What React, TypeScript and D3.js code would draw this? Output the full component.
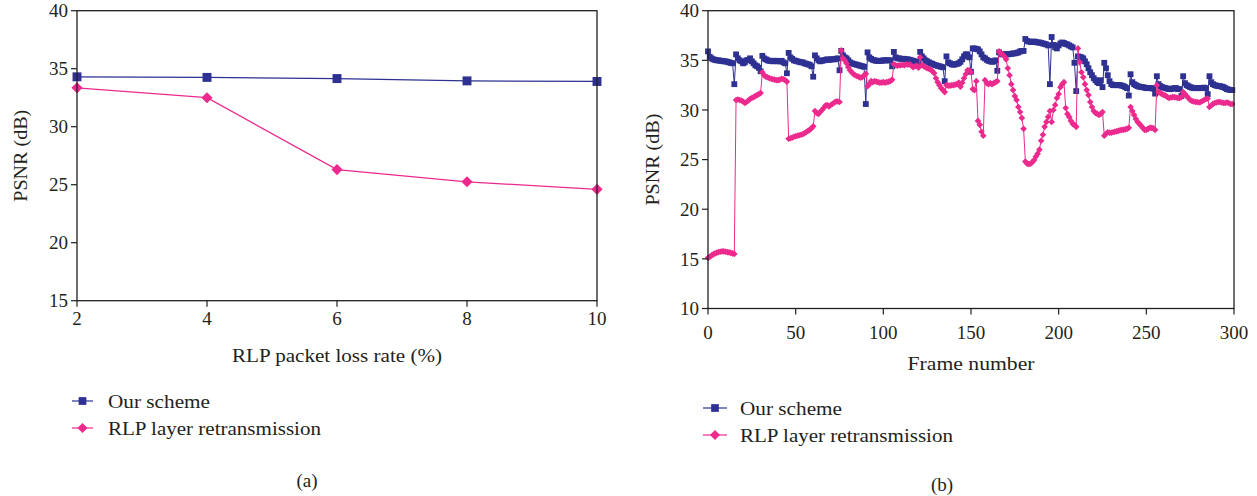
import React from "react";
import * as d3 from "d3";

// ---------- Data ----------
const lossRates = [2, 4, 6, 8, 10];
const lossOurScheme = [34.3, 34.25, 34.15, 33.95, 33.9];
const lossRLP = [33.35, 32.5, 26.3, 25.25, 24.6];

const leftYTicks = [15, 20, 25, 30, 35, 40];
const rightYTicks = [10, 15, 20, 25, 30, 35, 40];
const rightXTicks = [0, 50, 100, 150, 200, 250, 300];

const frameOurScheme = [
  35.9, 35.35, 35.2, 35.1, 35.05, 35.0, 35.0, 34.95, 34.95, 34.9, 34.9, 34.85, 34.8, 34.75, 34.7,
  32.6, 35.6, 35.2, 35.0, 34.9, 34.7, 34.8, 35.0, 35.05, 35.2, 34.9, 34.7, 34.5, 34.4, 34.25,
  33.9, 35.45, 35.2, 35.1, 35.0, 34.95, 34.95, 34.9, 34.95, 34.95, 34.9, 34.9, 34.95, 34.8, 34.7,
  33.7, 35.75, 35.3, 35.15, 35.0, 34.95, 34.9, 34.85, 34.8, 34.8, 34.7, 34.65, 34.6, 34.55, 34.4,
  33.35, 35.5, 35.2, 35.0, 34.9, 34.95, 35.0, 35.05, 35.1, 35.05, 35.1, 35.1, 35.1, 35.15, 35.2,
  34.0, 35.95, 35.5, 35.3, 35.2, 35.0, 34.8, 34.7, 34.65, 34.6, 34.55, 34.5, 34.45, 34.4, 34.35,
  30.6, 35.8, 35.3, 35.15, 35.05, 35.0, 34.95, 34.95, 34.95, 34.95, 35.0, 35.0, 35.0, 35.0, 35.0,
  34.4, 35.85, 35.3, 35.2, 35.2, 35.15, 35.15, 35.15, 35.1, 35.1, 35.05, 35.0, 34.95, 34.9, 34.85,
  34.7, 35.85, 35.4, 35.2, 35.0, 34.9, 34.8, 34.7, 34.65, 34.55, 34.5, 34.45, 34.4, 34.35, 34.3,
  32.9, 35.4, 34.8, 34.7, 34.6, 34.55, 34.6, 34.65, 34.7, 34.85, 35.1, 35.4, 35.6, 35.6, 35.3,
  33.85, 36.2, 36.2, 36.15, 36.1, 35.9, 35.6, 35.3, 35.2, 35.05, 34.95, 34.9, 34.85, 34.9, 35.0,
  33.95, 35.8, 35.65, 35.6, 35.6, 35.6, 35.6, 35.65, 35.65, 35.7, 35.7, 35.75, 35.8, 35.9, 35.95,
  35.95, 37.15, 36.95, 36.9, 36.85, 36.85, 36.9, 36.85, 36.8, 36.8, 36.75, 36.7, 36.65, 36.6, 36.5,
  32.6, 37.35, 36.55, 36.3, 36.2, 36.5, 36.7, 36.8, 36.75, 36.65, 36.6, 36.5, 36.4, 36.3, 34.75,
  31.9, 35.4, 35.35, 35.3, 35.2, 34.9, 34.6, 34.2, 33.8, 33.5, 33.2, 33.0, 32.8, 32.7, 33.0,
  32.3, 34.75, 34.2, 33.5, 32.9, 32.6, 32.5, 32.5, 32.5, 32.5, 32.5, 32.45, 32.4, 32.3, 32.2,
  31.45, 33.6, 32.8, 32.6, 32.5, 32.4, 32.35, 32.3, 32.3, 32.25, 32.2, 32.2, 32.2, 32.2, 32.15,
  31.65, 33.4, 32.6, 32.4, 32.3, 32.25, 32.2, 32.15, 32.1, 32.1, 32.15, 32.2, 32.2, 32.1, 32.1,
  31.4, 33.4, 32.7, 32.5, 32.4, 32.3, 32.25, 32.2, 32.2, 32.2, 32.2, 32.2, 32.2, 32.25, 32.2,
  31.6, 33.4, 32.8, 32.6, 32.5, 32.45, 32.4, 32.4, 32.35, 32.3, 32.2, 32.1, 32.05, 32.0, 32.0,
];

const frameRLP = [
  15.1, 15.2, 15.35, 15.45, 15.55, 15.62, 15.68, 15.72, 15.75, 15.75, 15.72, 15.68, 15.65, 15.6, 15.55, 15.5,
  31.0, 31.05, 31.0, 30.95, 30.85, 30.7, 30.8, 30.95, 31.1, 31.2, 31.3, 31.4, 31.5, 31.6, 31.7,
  33.8, 33.5, 33.35, 33.3, 33.2, 33.15, 33.1, 33.05, 33.0, 33.0, 33.05, 33.15, 33.1, 33.0, 32.85,
  27.1, 27.15, 27.2, 27.3, 27.35, 27.4, 27.45, 27.5, 27.55, 27.65, 27.75, 27.9, 28.0, 28.15, 28.35,
  29.9, 29.7, 29.6, 29.8, 30.0, 30.2, 30.45, 30.5, 30.35, 30.5, 30.6, 30.75, 30.85, 30.85, 30.8,
  36.0, 35.2, 35.0, 34.7, 34.3, 34.0, 33.8, 33.6, 33.5, 33.4, 33.35, 33.25, 33.3, 33.5, 33.65,
  32.4, 32.6, 32.9, 32.8, 32.9, 32.85, 32.8, 32.75, 32.75, 32.8, 32.75, 32.8, 32.85, 32.9, 33.05,
  34.6, 34.5, 34.45, 34.5, 34.5, 34.55, 34.5, 34.6, 34.55, 34.6, 34.45, 34.3, 34.4, 34.45, 34.25,
  35.3, 34.5, 34.4, 34.3, 34.2, 34.15, 34.05, 33.9, 33.7, 33.2, 32.8, 32.5, 32.2, 32.0, 31.8,
  32.5, 32.45, 32.45, 32.5, 32.5, 32.55, 32.6, 32.75, 32.35, 32.75, 33.2, 33.6, 34.0, 34.0, 33.8,
  32.1, 32.0, 32.9, 28.9, 28.5, 27.8, 27.4, 33.0, 32.7, 32.6, 32.7, 32.6, 32.7, 32.8, 32.9,
  35.9, 35.7, 35.6, 35.4, 35.1, 34.2, 33.5, 32.6, 32.0, 31.4, 31.0, 30.3, 29.8, 29.2, 28.1,
  24.8, 24.6, 24.55, 24.6, 24.75, 24.95, 25.3, 25.6, 26.0, 26.9, 27.5, 28.3, 28.8, 29.3, 29.9,
  28.8, 30.0, 30.5, 31.2, 31.6, 32.3, 32.6, 32.8, 30.2, 29.6, 29.3, 28.9, 28.6, 28.5, 28.3,
  36.2, 34.8, 33.8, 33.3, 32.6, 32.0, 31.5, 30.8, 30.3, 29.9, 29.7, 29.6, 29.5, 29.6, 29.8,
  27.4, 27.6, 27.75, 27.7, 27.7, 27.75, 27.8, 27.85, 27.9, 27.95, 28.0, 28.0, 28.05, 28.1, 28.2,
  30.3, 29.9, 29.5, 29.1, 28.8, 28.6, 28.4, 28.2, 28.0, 28.0, 28.1, 28.2, 28.2, 28.15, 28.0,
  32.5, 31.8, 31.7, 31.6, 31.5, 31.45, 31.3, 31.2, 31.25, 31.3, 31.3, 31.25, 31.2, 31.2, 31.3,
  31.8, 31.6, 31.4, 31.2, 31.0, 30.9, 30.85, 30.8, 30.8, 30.75, 30.8, 30.9, 31.0, 31.1, 31.15,
  30.3, 30.45, 30.6, 30.7, 30.75, 30.8, 30.8, 30.75, 30.7, 30.7, 30.75, 30.7, 30.6, 30.6,
];

const seriesNames = ["Our scheme", "RLP layer retransmission"];

// ---------- Styles ----------
const BLUE = "#2e3192";
const PINK = "#ec2a8e";
const AXIS = "#231f20";
const FONT = "'Liberation Serif', 'DejaVu Serif', serif";
const TEXT = "#231f20";
const FS = 19;
const legendTextLen = [102, 213];

type Pt = [number, number];

function Marker({ kind, x, y, size }: { kind: "square" | "diamond"; x: number; y: number; size: number }) {
  const path = d3.symbol().type(d3.symbolSquare).size(size)() as string;
  const rot = kind === "diamond" ? " rotate(45)" : "";
  return <path d={path} transform={`translate(${x},${y})${rot}`} fill={kind === "square" ? BLUE : PINK} />;
}

function Panel(props: {
  xDomain: [number, number];
  yDomain: [number, number];
  x0: number; x1: number; y0: number; y1: number;
  xTicks: number[]; yTicks: number[];
  series: { pts: Pt[]; color: string; kind: "square" | "diamond"; size: number; lw: number }[];
  yTitleX: number; xTickY: number; xTitleY: number; xTitle: string; xTitleLen: number;
  legendX: number; legendY: number; legendGap: number; legendLineLen: number; legendTextX: number;
  legendSizes: number[];
  caption: string; captionX: number; captionY: number;
}) {
  const x = d3.scaleLinear().domain(props.xDomain).range([props.x0, props.x1]);
  const y = d3.scaleLinear().domain(props.yDomain).range([props.y1, props.y0]);
  const line = d3.line<Pt>().x((d) => x(d[0])).y((d) => y(d[1]));
  const yMid = (props.y0 + props.y1) / 2;
  return (
    <g>
      {props.series.map((s, i) => (
        <g key={i}>
          <path d={line(s.pts) as string} fill="none" stroke={s.color} strokeWidth={s.lw} />
          {s.pts.map((p, j) => (
            <Marker key={j} kind={s.kind} x={x(p[0])} y={y(p[1])} size={s.size} />
          ))}
        </g>
      ))}
      <rect x={props.x0} y={props.y0} width={props.x1 - props.x0} height={props.y1 - props.y0}
        fill="none" stroke={AXIS} strokeWidth={1.3} />
      {props.yTicks.map((t) => (
        <g key={"y" + t}>
          <line x1={props.x0 - 6} x2={props.x0} y1={y(t)} y2={y(t)} stroke={AXIS} strokeWidth={1.2} />
          <text x={props.x0 - 9} y={y(t)} dy="0.35em" textAnchor="end" fontFamily={FONT} fontSize={FS} fill={TEXT}>{t}</text>
        </g>
      ))}
      {props.xTicks.map((t) => (
        <g key={"x" + t}>
          <line x1={x(t)} x2={x(t)} y1={props.y1} y2={props.y1 + 6} stroke={AXIS} strokeWidth={1.2} />
          <text x={x(t)} y={props.xTickY} dy="0.35em" textAnchor="middle" fontFamily={FONT} fontSize={FS} fill={TEXT}>{t}</text>
        </g>
      ))}
      <text transform={`translate(${props.yTitleX},${yMid}) rotate(-90)`} textAnchor="middle" dy="0.35em"
        fontFamily={FONT} fontSize={FS} fill={TEXT} textLength={92} lengthAdjust="spacingAndGlyphs">PSNR (dB)</text>
      <text x={(props.x0 + props.x1) / 2} y={props.xTitleY} dy="0.35em" textAnchor="middle"
        fontFamily={FONT} fontSize={FS} fill={TEXT} textLength={props.xTitleLen} lengthAdjust="spacingAndGlyphs">{props.xTitle}</text>
      {props.series.map((s, i) => {
        const ly = props.legendY + i * props.legendGap;
        return (
          <g key={"l" + i}>
            <line x1={props.legendX} x2={props.legendX + props.legendLineLen} y1={ly} y2={ly} stroke={s.color} strokeWidth={1.2} />
            <Marker kind={s.kind} x={props.legendX + props.legendLineLen / 2} y={ly} size={props.legendSizes[i]} />
            <text x={props.legendTextX} y={ly} dy="0.35em" fontFamily={FONT} fontSize={FS} fill={TEXT}
              textLength={legendTextLen[i]} lengthAdjust="spacingAndGlyphs">{seriesNames[i]}</text>
          </g>
        );
      })}
      <text x={props.captionX} y={props.captionY} dy="0.35em" textAnchor="middle" fontFamily={FONT} fontSize={FS} fill={TEXT}>{props.caption}</text>
    </g>
  );
}

export default function App() {
  const leftBlue: Pt[] = lossRates.map((r, i) => [r, lossOurScheme[i]]);
  const leftPink: Pt[] = lossRates.map((r, i) => [r, lossRLP[i]]);
  const rightBlue: Pt[] = frameOurScheme.map((v, i) => [i, v]);
  const rightPink: Pt[] = frameRLP.map((v, i) => [i, v]);
  return (
    <svg width={1257} height={496} style={{ position: "absolute", left: 0, top: 0, background: "#fff" }}>
      <Panel
        xDomain={[2, 10]} yDomain={[15, 40]}
        x0={77} x1={597} y0={10.7} y1={300.7}
        xTicks={lossRates} yTicks={leftYTicks}
        series={[
          { pts: leftBlue, color: BLUE, kind: "square", size: 80, lw: 1.2 },
          { pts: leftPink, color: PINK, kind: "diamond", size: 62, lw: 1.2 },
        ]}
        yTitleX={20} xTickY={318} xTitleY={355} xTitle="RLP packet loss rate (%)" xTitleLen={210}
        legendX={72} legendY={401} legendGap={27} legendLineLen={21} legendTextX={108}
        legendSizes={[60, 50]}
        caption="(a)" captionX={307} captionY={480}
      />
      <Panel
        xDomain={[0, 300]} yDomain={[10, 40]}
        x0={708} x1={1234} y0={10.7} y1={308.5}
        xTicks={rightXTicks} yTicks={rightYTicks}
        series={[
          { pts: rightBlue, color: BLUE, kind: "square", size: 34, lw: 1 },
          { pts: rightPink, color: PINK, kind: "diamond", size: 22, lw: 1 },
        ]}
        yTitleX={652} xTickY={332} xTitleY={363} xTitle="Frame number" xTitleLen={127}
        legendX={703} legendY={408} legendGap={27} legendLineLen={24} legendTextX={740}
        legendSizes={[60, 50]}
        caption="(b)" captionX={942} captionY={484}
      />
    </svg>
  );
}
